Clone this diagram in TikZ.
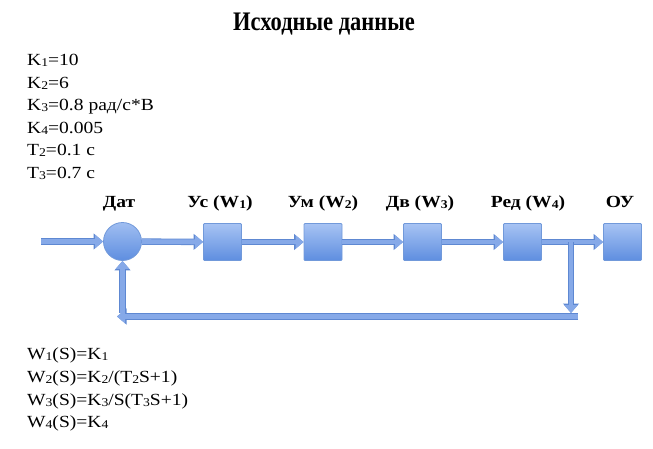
\documentclass[tikz,border=0pt]{standalone}
\usepackage{fontspec}
\usepackage{graphicx}
\setmainfont{Liberation Serif}[FakeStretch=1.15]
\newfontfamily\ttlfont{Liberation Serif Bold}
\usetikzlibrary{arrows.meta,shapes.geometric}
\definecolor{boxtop}{HTML}{A7C3F3}
\definecolor{boxbot}{HTML}{5E8EE0}
\definecolor{boxline}{HTML}{7199DA}
\definecolor{arrfill}{HTML}{86A9E8}
\definecolor{arrline}{HTML}{5E88D2}
\newcommand{\sbd}[1]{\raisebox{-0.15ex}{\scalebox{0.7}{#1}}}
\tikzset{
  blk/.style={draw=boxline, line width=0.8pt, top color=boxtop, bottom color=boxbot, minimum width=38pt, minimum height=37pt, inner sep=0pt, rounded corners=1pt},
  sumc/.style={circle, draw=boxline, line width=0.8pt, top color=boxtop!90!boxbot, bottom color=boxbot, minimum size=38pt, inner sep=0pt},
  flow/.style={line width=4.8pt, draw=arrfill, -{Triangle[length=8pt,width=13pt]},
     preaction={draw=arrline, line width=6.4pt, -{Triangle[length=9.5pt,width=15.5pt]}}},
  lbl/.style={anchor=base, font=\fontsize{17}{20}\selectfont\bfseries, inner sep=0pt},
  txt/.style={anchor=base west, font=\fontsize{17}{23}\selectfont, inner sep=0pt, align=left}
}
\begin{document}
\begin{tikzpicture}[x=1pt,y=-1pt]
\useasboundingbox (0,0) rectangle (653,448);
\node[anchor=base, inner sep=0pt] (title) at (324,30) {\scalebox{1}[1.19]{\ttlfont\fontsize{22.5}{26}\selectfont Исходные данные}};

\node[txt] (p1) at (27,65.5) {K\sbd{1}=10};
\node[txt] (p2) at (27,88) {K\sbd{2}=6};
\node[txt] (p3) at (27,110.5) {K\sbd{3}=0.8 рад/с*В};
\node[txt] (p4) at (27,133) {K\sbd{4}=0.005};
\node[txt] (p5) at (27,155.5) {T\sbd{2}=0.1 с};
\node[txt] (p6) at (27,178) {T\sbd{3}=0.7 с};

\node[lbl] (l0) at (119,207) {Дат};
\node[lbl] (l1) at (220,207) {Ус (W\sbd{1})};
\node[lbl] (l2) at (323,207) {Ум (W\sbd{2})};
\node[lbl] (l3) at (420,207) {Дв (W\sbd{3})};
\node[lbl] (l4) at (528,207) {Ред (W\sbd{4})};
\node[lbl] (l5) at (620,207) {ОУ};

\node[sumc] (s) at (122.5,241.5) {};
\node[blk] (b1) at (222.5,242) {};
\node[blk] (b2) at (323,242) {};
\node[blk] (b3) at (422.5,242) {};
\node[blk] (b4) at (522.5,242) {};
\node[blk] (b5) at (622.5,242) {};

\coordinate (in) at (41,241.5);
\coordinate (br) at (571,242);
\coordinate (brd) at (571,313);
\coordinate (fr) at (578,316.5);
\coordinate (fl) at (117,316.5);
\coordinate (fu) at (122.5,313);

\draw[flow] (in) -- (s);
\draw[flow] (s) -- (b1);
\draw[flow] (b1) -- (b2);
\draw[flow] (b2) -- (b3);
\draw[flow] (b3) -- (b4);
\draw[flow] (b4) -- (b5);
\draw[flow] (br) -- (brd);
\draw[flow] (fr) -- (fl);
\draw[flow] (fu) -- (s);

\node[txt] (w1) at (27,359.5) {W\sbd{1}(S)=K\sbd{1}};
\node[txt] (w2) at (27,382.5) {W\sbd{2}(S)=K\sbd{2}/(T\sbd{2}S+1)};
\node[txt] (w3) at (27,405) {W\sbd{3}(S)=K\sbd{3}/S(T\sbd{3}S+1)};
\node[txt] (w4) at (27,427.5) {W\sbd{4}(S)=K\sbd{4}};
\end{tikzpicture}
\end{document}
